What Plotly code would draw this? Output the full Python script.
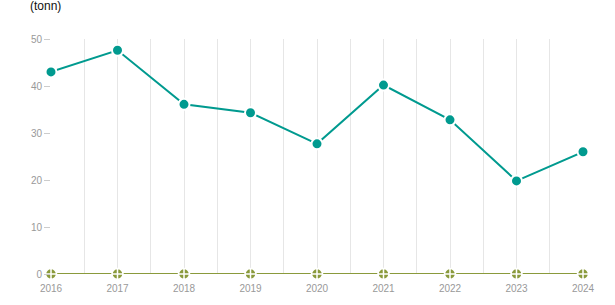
import plotly.graph_objects as go

years = ["2016", "2017", "2018", "2019", "2020", "2021", "2022", "2023", "2024"]
series_a = [43.0, 47.6, 36.1, 34.3, 27.7, 40.2, 32.8, 19.8, 26.0]
series_b = [0, 0, 0, 0, 0, 0, 0, 0, 0]
y_ticks = [0, 10, 20, 30, 40, 50]

xpos = list(range(len(years)))

fig = go.Figure()
fig.add_trace(go.Scatter(
    x=xpos, y=series_b, mode="lines+markers", cliponaxis=False,
    line=dict(color="#8a9a3c", width=2),
    marker=dict(symbol="circle-cross", size=11, color="#8a9a3c",
                line=dict(color="white", width=1.5)),
    showlegend=False,
))
fig.add_trace(go.Scatter(
    x=xpos, y=series_a, mode="lines+markers", cliponaxis=False,
    line=dict(color="#009a8f", width=2),
    marker=dict(symbol="circle", size=11, color="#009a8f",
                line=dict(color="white", width=2)),
    showlegend=False,
))

fig.update_layout(
    width=615, height=305,
    margin=dict(l=51, r=32, t=39, b=31),
    paper_bgcolor="white", plot_bgcolor="white",
    font=dict(family="Liberation Sans, Arial, sans-serif", size=10, color="#999999"),
    annotations=[dict(text="(tonn)", xref="paper", yref="paper", x=-0.044, y=1.1,
                      xanchor="left", yanchor="bottom", showarrow=False,
                      font=dict(size=12, color="#111111"))],
)
fig.update_xaxes(
    range=[0, 8], tickmode="array", tickvals=xpos, ticktext=years,
    showgrid=True, gridcolor="#e6e6e6", gridwidth=1,
    minor=dict(dtick=0.5, tick0=0, showgrid=True, gridcolor="#e6e6e6"),
    zeroline=False, showline=False, ticks="outside", ticklen=5,
    tickcolor="rgba(0,0,0,0)", fixedrange=True,
)
fig.update_yaxes(
    range=[0, 50], tickmode="array", tickvals=y_ticks,
    showgrid=False, zeroline=False, showline=False,
    ticks="outside", ticklen=6, tickcolor="#cccccc", tickwidth=1,
)

fig.write_html("out.html")
